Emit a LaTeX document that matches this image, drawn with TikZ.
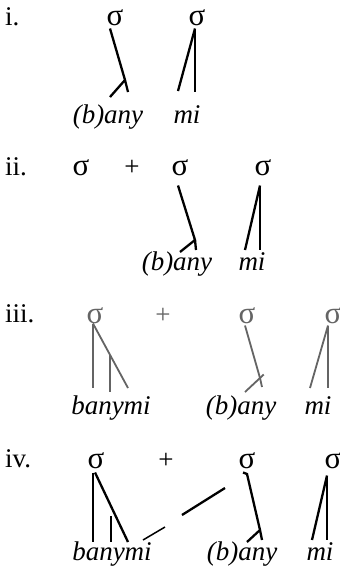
\documentclass[tikz,border=0pt]{standalone}
\usepackage{fontspec}
\setmainfont{Liberation Serif}
\usepackage{tikz}
\usetikzlibrary{calc}
\definecolor{fadegray}{RGB}{100,100,100}
\newcommand{\glossfont}{\fontsize{27}{31}\selectfont}
\newcommand{\sigfont}{\fontsize{31}{35}\selectfont}
\tikzset{
	sig/.style={inner sep=0pt, anchor=base, font=\sigfont},
	plus/.style={inner sep=0pt, anchor=base, font=\glossfont},
	word/.style={inner sep=0pt, anchor=base, font=\glossfont\itshape},
	num/.style={inner sep=0pt, anchor=base west, font=\glossfont},
	assoc/.style={line width=2.3pt},
	thinassoc/.style={line width=1.5pt},
	faded/.style={line width=1.8pt, fadegray},
}
\begin{document}
\begin{tikzpicture}[x=1pt,y=-1pt]
	\useasboundingbox (0,0) rectangle (340,568);
	% i.
	\node[num] (i-n) at (5,25) {i.};
	\node[sig] (i-s1) at (115,25) {σ}; \node[sig] (i-s2) at (197,25) {σ};
	\node[word] (i-w1) at (108,123) {(b)any}; \node[word] (i-w2) at (187,123) {mi};
	\coordinate (i-k) at (125,80); \coordinate (i-l1) at (110,97); \coordinate (i-l2) at (128,92);
	\coordinate (i-m1) at (178,91); \coordinate (i-m2) at (195,92);
	\draw[assoc] (i-s1.south)++(-5,3) -- (i-k) -- (i-l1) (i-k) -- (i-l2);
	\draw[assoc] (i-s2.south)++(-2,3) -- (i-m1);
	\draw[thinassoc] (i-s2.south)++(-2,3) -- (i-m2);
	% ii.
	\node[num] (ii-n) at (5,175) {ii.};
	\node[sig] (ii-s1) at (81,175) {σ}; \node[plus] (ii-p) at (132,175) {+};
	\node[sig] (ii-s2) at (180,175) {σ}; \node[sig] (ii-s3) at (263,175) {σ};
	\node[word] (ii-w1) at (177,270) {(b)any}; \node[word] (ii-w2) at (252,270) {mi};
	\coordinate (ii-k) at (195,240); \coordinate (ii-l1) at (180,252); \coordinate (ii-l2) at (196,250);
	\coordinate (ii-m1) at (245,250); \coordinate (ii-m2) at (260,250);
	\draw[assoc] (ii-s2.south)++(-2,10) -- (ii-k) -- (ii-l1) (ii-k) -- (ii-l2);
	\draw[assoc] (ii-s3.south)++(-3,10) -- (ii-m1);
	\draw[thinassoc] (ii-s3.south)++(-3,10) -- (ii-m2);
	% iii.
	\node[num] (iii-n) at (5,322) {iii.};
	\node[sig,text=fadegray] (iii-s1) at (95,323) {σ}; \node[plus,text=fadegray] (iii-p) at (163,323) {+};
	\node[sig,text=fadegray] (iii-s2) at (247,323) {σ}; \node[sig,text=fadegray] (iii-s3) at (333,323) {σ};
	\node[word] (iii-w1) at (111,414) {banymi}; \node[word] (iii-w2) at (241,414) {(b)any};
	\node[word] (iii-w3) at (318,414) {mi};
	\coordinate (iii-b1) at (93,388); \coordinate (iii-b2) at (128,388);
	\coordinate (iii-j) at (110,355); \coordinate (iii-b3) at (110,392);
	\coordinate (iii-k) at (260,378); \coordinate (iii-l1) at (245,392); \coordinate (iii-l2) at (262,387);
	\coordinate (iii-m1) at (310,388); \coordinate (iii-m2) at (328,388);
	\draw[faded] (iii-s1.south)++(-2,0) -- (iii-b1);
	\draw[faded] (iii-s1.south)++(-2,0) -- (iii-b2);
	\draw[faded] (iii-j) -- (iii-b3);
	\draw[faded] (iii-s2.south)++(-2,2) -- (iii-k) -- (iii-l2);
	\draw[faded] (iii-l1) -- ($(iii-l1)!1.25!(iii-k)$);
	\draw[faded] (iii-s3.south)++(-5,2) -- (iii-m1);
	\draw[faded] (iii-s3.south)++(-5,2) -- (iii-m2);
	% iv.
	\node[num] (iv-n) at (5,467) {iv.};
	\node[sig] (iv-s1) at (96,468) {σ}; \node[plus] (iv-p) at (166,468) {+};
	\node[sig] (iv-s2) at (247,468) {σ}; \node[sig] (iv-s3) at (333,468) {σ};
	\node[word] (iv-w1) at (112,560) {banymi}; \node[word] (iv-w2) at (242,560) {(b)any};
	\node[word] (iv-w3) at (320,560) {mi};
	\coordinate (iv-b1) at (93,542); \coordinate (iv-b2) at (128,542);
	\coordinate (iv-j) at (111,516); \coordinate (iv-b3) at (111,542);
	\coordinate (iv-h) at (247,474);
	\coordinate (iv-k) at (260,530); \coordinate (iv-l1) at (247,542); \coordinate (iv-l2) at (262,540);
	\coordinate (iv-m1) at (312,540); \coordinate (iv-m2) at (327,540);
	\coordinate (iv-x1) at (143,540); \coordinate (iv-x2) at (165,527);
	\coordinate (iv-x3) at (182,515); \coordinate (iv-x4) at (225,488);
	\draw[thinassoc] (iv-s1.south)++(-3,4) -- (iv-b1);
	\draw[assoc] (iv-s1.south)++(-1,4) -- (iv-b2);
	\draw[thinassoc] (iv-j) -- (iv-b3);
	\draw[assoc] (iv-s2.south)++(-4,4) -- (iv-h) -- (iv-k) -- (iv-l1) (iv-k) -- (iv-l2);
	\draw[assoc] (iv-s3.south)++(-6,7) -- (iv-m1);
	\draw[thinassoc] (iv-s3.south)++(-6,7) -- (iv-m2);
	\draw[thinassoc] (iv-x1) -- (iv-x2);
	\draw[assoc] (iv-x3) -- (iv-x4);
\end{tikzpicture}
\end{document}
